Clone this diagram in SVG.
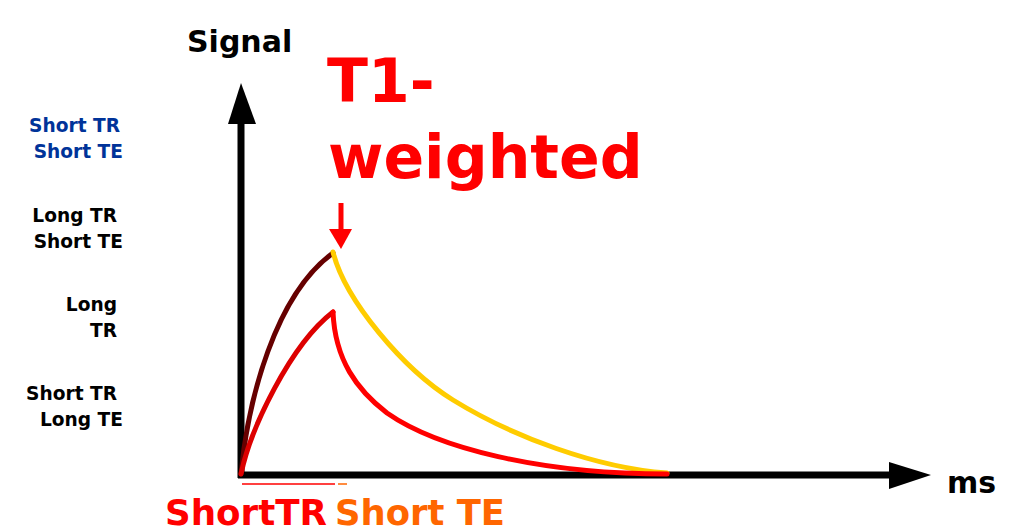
<svg xmlns="http://www.w3.org/2000/svg" width="1019" height="532" viewBox="0 0 1019 532">
<style>
text{font-family:"DejaVu Sans","Verdana","Liberation Sans",sans-serif;font-weight:bold}
.lbl{font-size:18.6px;text-anchor:end;fill:#000}
.curve{fill:none;stroke-width:5;stroke-linecap:round;stroke-linejoin:round}
</style>
<rect width="1019" height="532" fill="#fff"/>
<g id="axes">
<line x1="241" y1="478" x2="241" y2="120" stroke="#000" stroke-width="7"/>
<polygon points="228,124 241,83 256,124" fill="#000"/>
<line x1="238" y1="475" x2="892" y2="475" stroke="#000" stroke-width="7"/>
<polygon points="889,462 931,475 889,489" fill="#000"/>
</g>
<g id="axis-labels">
<text x="187" y="52" font-size="30">Signal</text>
<text x="947" y="493" font-size="30">ms</text>
</g>
<g id="left-labels">
<text class="lbl" x="120" y="132" style="fill:#003399">Short TR</text>
<text class="lbl" x="123" y="158" style="fill:#003399">Short TE</text>
<text class="lbl" x="117" y="222">Long TR</text>
<text class="lbl" x="123" y="248">Short TE</text>
<text class="lbl" x="117" y="311">Long</text>
<text class="lbl" x="117" y="337">TR</text>
<text class="lbl" x="117" y="400">Short TR</text>
<text class="lbl" x="123" y="426">Long TE</text>
</g>
<g id="curves">
<path class="curve" stroke="#660000" d="M241,474 C248,400 275,295 333,253"/>
<path class="curve" stroke="#dd0000" d="M241,474 C250,430 290,345 333,312"/>
<path class="curve" stroke="#ffcc00" d="M333,252 C345,300 403,369 453,400 C513,437 597,468 667,473"/>
<path class="curve" stroke="#ff0000" d="M333,312 C335,360 357,390 387,413 C437,448 540,474 667,474"/>
</g>
<g id="title">
<text x="327" y="102" font-size="60" fill="#ff0000">T1-</text>
<text x="328" y="178" font-size="60" fill="#ff0000">weighted</text>
<line x1="341" y1="203" x2="341" y2="232" stroke="#ff0000" stroke-width="5"/>
<polygon points="329,229 352,229 341,249" fill="#ff0000"/>
</g>
<g id="bottom">
<line x1="242" y1="484" x2="335" y2="484" stroke="#ff0000" stroke-width="1.5"/>
<line x1="338" y1="484" x2="347" y2="484" stroke="#ff6600" stroke-width="1.5"/>
<text x="165" y="525" font-size="35" fill="#ff0000" textLength="162" lengthAdjust="spacingAndGlyphs">ShortTR</text>
<text x="335" y="525" font-size="35" fill="#ff6600" textLength="170" lengthAdjust="spacingAndGlyphs">Short TE</text>
</g>
</svg>
